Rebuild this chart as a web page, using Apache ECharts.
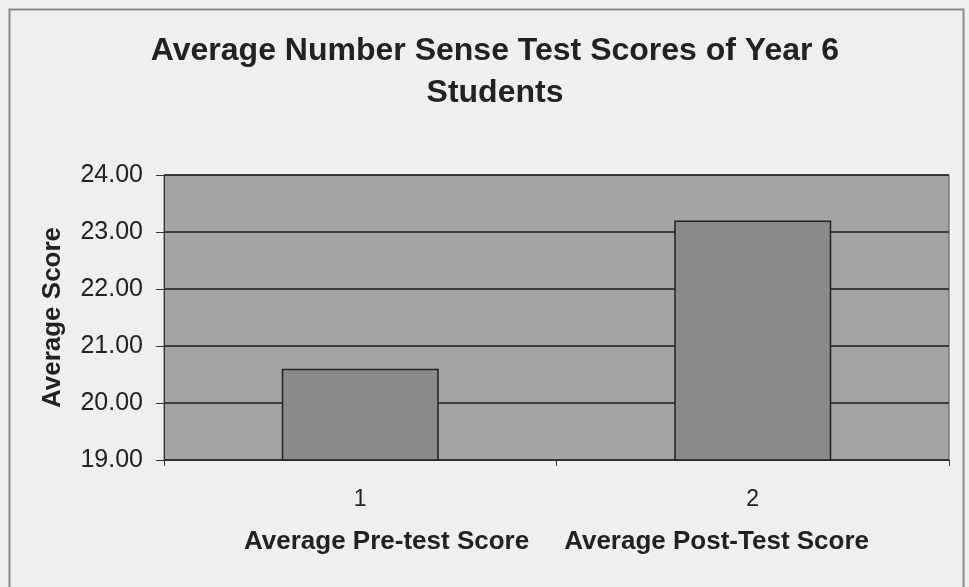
<!DOCTYPE html>
<html>
<head>
<meta charset="utf-8">
<script src="https://cdn.jsdelivr.net/npm/echarts@6/dist/echarts.min.js"></script>
<style>
html,body{margin:0;padding:0;background:#efefef;}
#c{width:969px;height:587px;}
</style>
</head>
<body>
<div id="c"></div>
<script>
const categories = ['1', '2'];
const categoryNames = ['Average Pre-test Score', 'Average Post-Test Score'];
const values = [20.6, 23.2];
const yTicks = { min: 19, max: 24, interval: 1 };
const titleText = 'Average Number Sense Test Scores of Year 6\nStudents';
const yAxisName = 'Average Score';

const chart = echarts.init(document.getElementById('c'));
const font = 'Liberation Sans, Arial, sans-serif';
chart.setOption({
  backgroundColor: '#efefef',
  animation: false,
  graphic: [{
    type: 'rect',
    shape: { x: 9.5, y: 9.5, width: 954, height: 600 },
    style: { fill: 'none', stroke: '#8a8a8a', lineWidth: 2 },
    z: 100
  }],
  title: {
    text: titleText,
    left: 490,
    textAlign: 'center',
    top: 25,
    textStyle: {
      fontFamily: font,
      fontWeight: 'bold',
      fontSize: 32,
      color: '#222',
      lineHeight: 42
    }
  },
  grid: {
    left: 164, right: 20, top: 175, bottom: 127,
    show: true,
    backgroundColor: '#a4a4a4',
    borderColor: '#555',
    borderWidth: 1
  },
  xAxis: {
    type: 'category',
    data: categories,
    name: '{p|' + categoryNames[0] + '}{q|' + categoryNames[1] + '}',
    nameLocation: 'middle',
    nameGap: 67,
    nameTextStyle: {
      rich: {
        p: { fontFamily: font, fontSize: 26, fontWeight: 'bold', color: '#222', lineHeight: 30, padding: [0, 35, 0, 0] },
        q: { fontFamily: font, fontSize: 26, fontWeight: 'bold', color: '#222', lineHeight: 30 }
      }
    },
    axisLine: { lineStyle: { color: '#333', width: 1 } },
    axisTick: { show: true, alignWithLabel: false, length: 6, lineStyle: { color: '#333' } },
    axisLabel: {
      margin: 28,
      fontFamily: font, fontSize: 23, color: '#222', lineHeight: 23
    }
  },
  yAxis: {
    type: 'value',
    min: yTicks.min, max: yTicks.max, interval: yTicks.interval,
    name: yAxisName,
    nameLocation: 'middle',
    nameGap: 98,
    nameRotate: 90,
    nameTextStyle: { fontFamily: font, fontSize: 26, fontWeight: 'bold', color: '#222' },
    axisLine: { show: true, lineStyle: { color: '#333', width: 1 } },
    axisTick: { show: true, length: 8, lineStyle: { color: '#333' } },
    axisLabel: {
      margin: 21,
      fontFamily: font, fontSize: 25, color: '#222',
      formatter: v => v.toFixed(2)
    },
    splitLine: { show: true, lineStyle: { color: '#1a1a1a', width: 1.5 } }
  },
  series: [{
    type: 'bar',
    data: values,
    barCategoryGap: '60%',
    itemStyle: { color: '#8a8a8a', borderColor: '#222', borderWidth: 1.5 }
  }]
});
</script>
</body>
</html>
